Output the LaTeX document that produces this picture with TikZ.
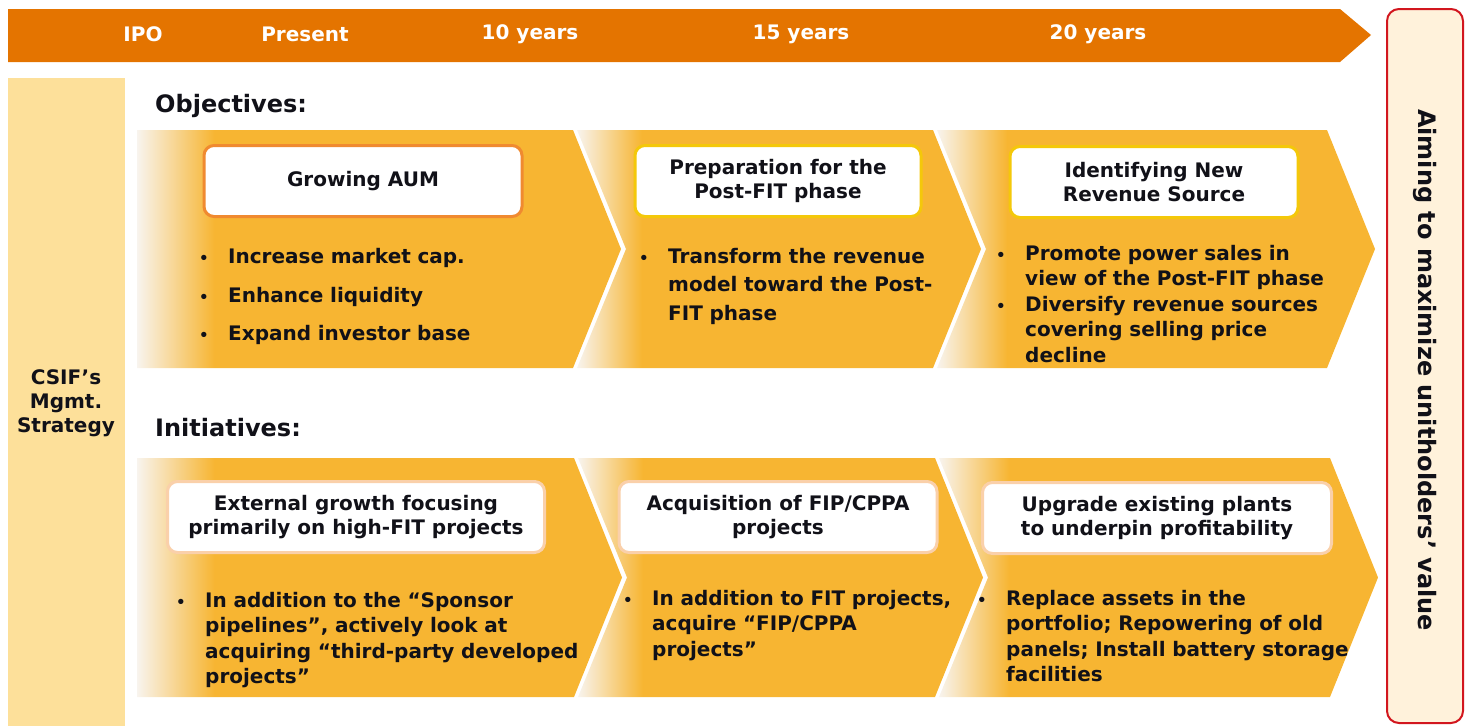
\documentclass[tikz,border=0pt]{standalone}
\usepackage{fontspec}
\setmainfont{DejaVu Sans}
\usetikzlibrary{positioning}
\definecolor{barorange}{RGB}{228,116,0}
\definecolor{chevorange}{RGB}{247,181,50}
\definecolor{chevpale}{RGB}{248,244,238}
\definecolor{colpale}{RGB}{253,224,154}
\definecolor{goalfill}{RGB}{255,242,219}
\definecolor{goalred}{RGB}{210,22,30}
\definecolor{boxorange}{RGB}{240,138,48}
\definecolor{boxgold}{RGB}{244,200,10}
\definecolor{boxpeach}{RGB}{250,208,170}
\definecolor{ink}{RGB}{17,17,24}
\pgfdeclarehorizontalshading{chevfade}{100bp}{color(0bp)=(chevpale); color(25bp)=(chevpale); color(33bp)=(chevorange); color(100bp)=(chevorange)}
\tikzset{
  bodytxt/.style={font=\bfseries\fontsize{20}{25.5}\selectfont, text=ink, inner sep=0pt, align=left, text width=420pt},
  headtxt/.style={font=\bfseries\fontsize{20}{24}\selectfont, text=ink, align=center, inner sep=0pt},
  titlebox/.style={draw, line width=3pt, fill=white, rounded corners=10pt, align=center, inner sep=0pt,
    minimum height=71pt, font=\bfseries\fontsize{20}{24}\selectfont, text=ink},
  dot/.style={font=\bfseries\fontsize{15}{20}\selectfont, text=ink, inner sep=0pt},
  yeartxt/.style={font=\bfseries\fontsize{20}{24}\selectfont, text=white, inner sep=0pt},
  sectxt/.style={font=\bfseries\fontsize{24}{28}\selectfont, text=ink, inner sep=0pt, anchor=base west},
}

\begin{document}
\begin{tikzpicture}[x=1pt,y=-1pt]
\useasboundingbox (0,0) rectangle (1469,726);

% timeline bar
\fill[barorange] (8,9) -- (1340,9) -- (1371,35) -- (1340,62) -- (8,62) -- cycle;
\node[yeartxt] (ipo) at (143,34) {IPO};
\node[yeartxt] (now) at (305,34) {Present};
\node[yeartxt] (y10) at (530,34) {10 years};
\node[yeartxt] (y15) at (801,34) {15 years};
\node[yeartxt] (y20) at (1098,34) {20 years};

% left column and goal box
\fill[colpale] (8,78) rectangle (125,726);
\node[headtxt] (csif) at (66,403) {CSIF’s\\Mgmt.\\Strategy};
\draw[goalred, line width=2pt, fill=goalfill, rounded corners=12pt] (1387,9) rectangle (1463,723);
\node[font=\bfseries\fontsize{24}{28}\selectfont, text=ink, rotate=-90] (goal) at (1425,370) {Aiming to maximize unitholders’ value};

% chevrons
\foreach \xa/\xb/\n/\ya/\yb in {137/573/0/130/368, 577/933/49/130/368, 937/1327/49/130/368,
  137/574/0/458/697, 578/935/49/458/697, 939/1330/49/458/697}
  \shade[shading=chevfade] (\xa,\ya) -- (\xb,\ya) -- ({\xb+48},{(\ya+\yb)/2}) -- (\xb,\yb)
    -- (\xa,\yb) -- ({\xa+\n},{(\ya+\yb)/2}) -- cycle;

\node[sectxt] (obj) at (155,112) {Objectives:};
\node[sectxt] (ini) at (155,436) {Initiatives:};

% objectives
\node[titlebox, draw=boxorange, minimum width=318pt] (aum) at (363,181) {Growing AUM};
\node[titlebox, draw=boxgold, minimum width=286pt] (prep) at (778,181) {Preparation for the\\Post-FIT phase};
\node[titlebox, draw=boxgold, minimum width=288pt] (newrev) at (1154,182) {Identifying New\\Revenue Source};

\node[bodytxt, anchor=base west] (o1a) at (228,263) {Increase market cap.};
\node[bodytxt, anchor=base west] (o1b) at (228,302) {Enhance liquidity};
\node[bodytxt, anchor=base west] (o1c) at (228,340) {Expand investor base};
\node[bodytxt, anchor=base west, font=\bfseries\fontsize{20}{28.5}\selectfont] (o2a) at (668,263)
  {Transform the revenue\\model toward the Post-\\FIT phase};
\node[bodytxt, anchor=base west] (o3a) at (1025,260) {Promote power sales in\\view of the Post-FIT phase};
\node[bodytxt, anchor=base west] (o3b) at (1025,311) {Diversify revenue sources\\covering selling price\\decline};
\foreach \t in {o1a,o1b,o1c,o2a,o3a,o3b}
  \node[dot, anchor=base west] at ([xshift=-29pt]\t.base west) {\textbullet};

% initiatives
\node[titlebox, draw=boxpeach, minimum width=377pt] (extg) at (356,517) {External growth focusing\\primarily on high-FIT projects};
\node[titlebox, draw=boxpeach, minimum width=318pt] (fip) at (778,517) {Acquisition of FIP/CPPA\\projects};
\node[titlebox, draw=boxpeach, minimum width=349pt] (upg) at (1157,518) {Upgrade existing plants\\to underpin profitability};

\node[bodytxt, anchor=base west] (i1a) at (205,607)
  {In addition to the “Sponsor\\pipelines”, actively look at\\acquiring “third-party developed\\projects”};
\node[bodytxt, anchor=base west] (i2a) at (652,605) {In addition to FIT projects,\\acquire “FIP/CPPA\\projects”};
\node[bodytxt, anchor=base west] (i3a) at (1006,605)
  {Replace assets in the\\portfolio; Repowering of old\\panels; Install battery storage\\facilities};
\foreach \t in {i1a,i2a,i3a}
  \node[dot, anchor=base west] at ([xshift=-29pt]\t.base west) {\textbullet};
\end{tikzpicture}
\end{document}
